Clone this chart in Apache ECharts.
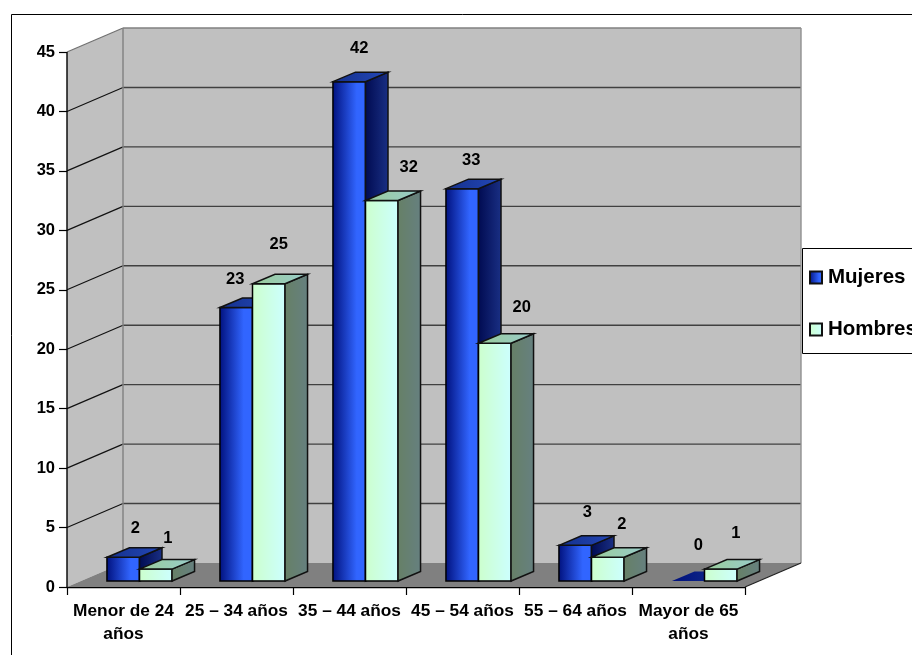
<!DOCTYPE html>
<html>
<head>
<meta charset="utf-8">
<style>html,body{margin:0;padding:0;background:#fff;overflow:hidden}#c{width:912px;height:655px}</style>
<script src="https://cdn.jsdelivr.net/npm/echarts@6/dist/echarts.min.js"></script>
</head>
<body>
<div id="c"></div>
<script>
const categories = ['Menor de 24 años', '25 – 34 años', '35 – 44 años', '45 – 54 años', '55 – 64 años', 'Mayor de 65 años'];
const mujeres = [2, 23, 42, 33, 3, 0];
const hombres = [1, 25, 32, 20, 2, 1];
const yTicks = [0, 5, 10, 15, 20, 25, 30, 35, 40, 45];

const FONT = 'bold 16.5px "Liberation Sans", Arial, sans-serif';
const WALL_DX = 56, WALL_DY = -24;   // depth of the whole plot box
const BAR_DX = 22.5, BAR_DY = -9.5;  // depth of one bar
const BASE_DX = 16, BASE_DY = -6;    // bars stand this far into the floor
const BAR_SHARE = 0.288;             // bar width as share of a category band
const G = echarts.graphic;
const grad = (a, b, mid) => new G.LinearGradient(0, 0, 1, 0,
  mid ? [{offset: 0, color: a}, {offset: mid, color: b}, {offset: 1, color: b}]
      : [{offset: 0, color: a}, {offset: 1, color: b}]);

const poly = (points, fill, stroke, lineWidth) => ({
  type: 'polygon', shape: {points},
  style: {fill: fill || 'none', stroke: stroke || 'none', lineWidth: lineWidth || 1}
});
const line = (x1, y1, x2, y2, stroke, lineWidth) => ({
  type: 'line', shape: {x1, y1, x2, y2}, style: {stroke, lineWidth: lineWidth || 1}
});

function renderWalls(params, api) {
  const r = params.coordSys;
  const x0 = r.x, x1 = r.x + r.width;
  const yB = api.coord([0, 0])[1], yT = api.coord([0, 45])[1];
  const dx = WALL_DX, dy = WALL_DY;
  const kids = [
    poly([[x0, yT], [x0 + dx, yT + dy], [x0 + dx, yB + dy], [x0, yB]], '#c0c0c0'),
    poly([[x0 + dx, yT + dy], [x1 + dx, yT + dy], [x1 + dx, yB + dy], [x0 + dx, yB + dy]], '#c0c0c0'),
    poly([[x0, yB], [x0 + dx, yB + dy], [x1 + dx, yB + dy], [x1, yB]], '#808080')
  ];
  yTicks.forEach(t => {
    const y = api.coord([0, t])[1];
    if (t === 0) return;
    const top = t === 45;
    kids.push(line(x0, y, x0 + dx, y + dy, top ? '#707070' : '#111', 1.2));
    kids.push(line(x0 + dx, y + dy, x1 + dx, y + dy, top ? '#808080' : '#404040', 1.4));
  });
  kids.push(line(x0 + dx, yT + dy, x0 + dx, yB + dy, '#808080', 1.4));
  kids.push(line(x1 + dx, yT + dy, x1 + dx, yB + dy, '#909090', 1.4));
  kids.push(line(x1, yB, x1 + dx, yB + dy, '#222', 1.3));
  kids.push(line(x0, yB, x0, yT, '#000', 1.4));
  return {type: 'group', silent: true, children: kids};
}

function barRenderer(which, values, pal, labelNudge) {
  return function (params, api) {
    const i = api.value(0), v = api.value(1);
    const band = api.size([1, 0])[0];
    const w = band * BAR_SHARE;
    const c = api.coord([i, 0]);
    const t = api.coord([i, v]);
    const xL = c[0] + BASE_DX + (which === 0 ? -w : 0);
    const xR = xL + w;
    const yB = c[1] + BASE_DY;
    const yT = t[1] + BASE_DY;
    const dx = BAR_DX, dy = BAR_DY;
    const kids = [];
    if (v > 0) {
      kids.push(poly([[xL, yT], [xR, yT], [xR, yB], [xL, yB]], pal.front, '#000', 1.5));
      kids.push(poly([[xR, yT], [xR + dx, yT + dy], [xR + dx, yB + dy], [xR, yB]], pal.side, '#111', 1.5));
      kids.push(poly([[xL, yT], [xL + dx, yT + dy], [xR + dx, yT + dy], [xR, yT]], pal.top, '#111', 1.5));
    } else {
      kids.push(poly([[xL, yT], [xL + dx, yT + dy], [xR + dx, yT + dy], [xR, yT]], pal.zero));
    }
    const n = labelNudge[i];
    kids.push({
      type: 'text', z2: 50,
      style: {
        text: String(v), x: (xL + xR) / 2 + n[0], y: yT + n[1],
        fill: '#000', font: FONT, align: 'center', verticalAlign: 'middle'
      }
    });
    return {type: 'group', children: kids};
  };
}

const blue = {
  front: grad('#00107c', '#3165ff', 0.72),
  side: grad('#000a50', '#1a3085'),
  top: grad('#14308c', '#2448b8'),
  zero: grad('#00107c', '#14308c')
};
const green = {
  front: grad('#ccffcc', '#ccffff'),
  side: grad('#668066', '#668080'),
  top: grad('#99cc99', '#99cccc'),
  zero: '#99ccb3'
};
const womenNudge = [[12, -29], [-1, -28], [10, -33], [9, -28], [12, -33], [10, -36]];
const menNudge = [[12, -31], [10, -39], [27, -33], [27, -36], [14, -33], [15, -36]];
const wrapLabel = s => s.length > 12 ? s.replace(/ (años)$/, '\n$1') : s;

const chart = echarts.init(document.getElementById('c'), null, {renderer: 'canvas'});
chart.setOption({
  animation: false,
  backgroundColor: '#fff',
  textStyle: {fontFamily: '"Liberation Sans", Arial, sans-serif'},
  grid: {left: 67, right: 167, top: 52, bottom: 68, containLabel: false},
  graphic: [
    {type: 'rect', z: -10, shape: {x: 11.5, y: 14.5, width: 940, height: 700}, style: {fill: '#fff', stroke: '#000', lineWidth: 1}},
    {type: 'rect', z: -9, shape: {x: 802.5, y: 248.5, width: 150, height: 105}, style: {fill: '#fff', stroke: '#000', lineWidth: 1}}
  ],
  legend: {
    left: 809, top: 267, orient: 'vertical', itemWidth: 12, itemHeight: 12, itemGap: 31,
    icon: 'rect',
    data: ['Mujeres', 'Hombres'], selectedMode: false, padding: 0,
    textStyle: {fontFamily: '"Liberation Sans", Arial, sans-serif', fontWeight: 'bold', fontSize: 20.5, color: '#000', padding: [0, 0, 0, 1]}
  },
  xAxis: {
    type: 'category', data: categories,
    axisLine: {onZero: false, lineStyle: {color: '#000', width: 1.4}},
    axisTick: {show: true, length: 8, alignWithLabel: false, interval: 0, lineStyle: {color: '#000', width: 1.2}},
    axisLabel: {
      interval: 0, color: '#000', fontWeight: 'bold', fontSize: 17.3, margin: 12.5,
      lineHeight: 23, align: 'center', hideOverlap: false, formatter: wrapLabel
    },
    splitLine: {show: false}
  },
  yAxis: {
    type: 'value', min: 0, max: 45, interval: 5,
    axisLine: {show: false},
    axisTick: {show: true, length: 8, lineStyle: {color: '#000', width: 1.2}},
    axisLabel: {color: '#000', fontWeight: 'bold', fontSize: 16.5, margin: 12},
    splitLine: {show: false}
  },
  series: [
    {type: 'custom', name: 'walls', z: 1, silent: true, data: [[0, 0]], encode: {x: 0, y: 1}, renderItem: renderWalls, tooltip: {show: false}},
    {type: 'custom', name: 'Mujeres', z: 3, data: mujeres.map((v, i) => [i, v]), encode: {x: 0, y: 1},
      itemStyle: {color: grad('#00107c', '#3165ff', 0.72), borderColor: '#111', borderWidth: 1},
      renderItem: barRenderer(0, mujeres, blue, womenNudge)},
    {type: 'custom', name: 'Hombres', z: 4, data: hombres.map((v, i) => [i, v]), encode: {x: 0, y: 1},
      itemStyle: {color: grad('#ccffcc', '#ccffff'), borderColor: '#111', borderWidth: 1},
      renderItem: barRenderer(1, hombres, green, menNudge)}
  ]
});
</script>
</body>
</html>
